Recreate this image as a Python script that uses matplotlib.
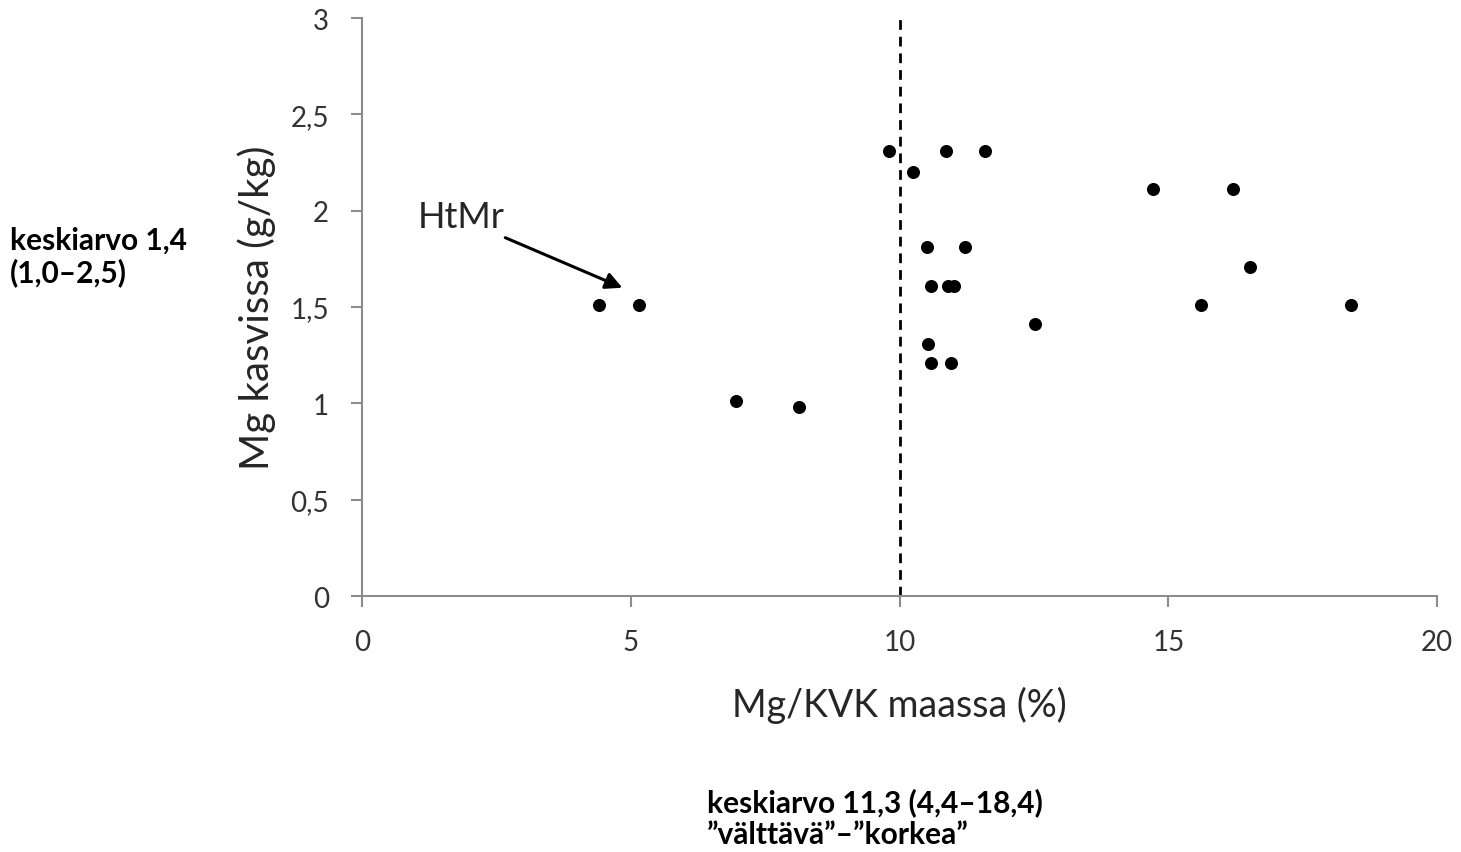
import matplotlib.pyplot as plt
import numpy as np

# Mg/KVK maassa (%) vs Mg kasvissa (g/kg)
mg_kvk = [4.41, 5.15, 6.95, 8.13, 9.81, 10.25, 10.86, 11.58, 10.50, 11.21,
          10.58, 10.89, 11.02, 10.53, 10.59, 10.96, 12.52, 14.72, 16.21,
          16.52, 15.61, 18.39]
mg_kasvi = [1.51, 1.51, 1.01, 0.98, 2.31, 2.20, 2.31, 2.31, 1.81, 1.81,
            1.61, 1.61, 1.61, 1.31, 1.21, 1.21, 1.41, 2.11, 2.11,
            1.71, 1.51, 1.51]

xticks = [0, 5, 10, 15, 20]
yticks = [0, 0.5, 1, 1.5, 2, 2.5, 3]
ytick_labels = ['0', '0,5', '1', '1,5', '2', '2,5', '3']
raja = 10

plt.rcParams['font.family'] = ['Lato', 'DejaVu Sans']

fig = plt.figure(figsize=(14.61, 8.53), dpi=100)
ax = fig.add_axes([0.2480, 0.3001, 0.7356, 0.6776])

ax.scatter(mg_kvk, mg_kasvi, s=88, color='black', zorder=3, linewidths=0)
ax.axvline(raja, ymin=0, ymax=1, color='black', linestyle=(0, (3.5, 2.5)), linewidth=2)

ax.set_xlim(0, 20)
ax.set_ylim(0, 3)
ax.set_xticks(xticks)
ax.set_xticklabels([str(t) for t in xticks])
ax.set_yticks(yticks)
ax.set_yticklabels(ytick_labels)

for s in ['top', 'right']:
    ax.spines[s].set_visible(False)
for s in ['left', 'bottom']:
    ax.spines[s].set_color('#8c8c8c')
    ax.spines[s].set_linewidth(1.5)
ax.tick_params(axis='both', colors='#8c8c8c', length=8, width=1.5,
               labelsize=20, labelcolor='#333333')
ax.tick_params(axis='x', pad=16)
ax.tick_params(axis='y', pad=16)

ax.set_xlabel('Mg/KVK maassa (%)', fontsize=27, color='#262626', labelpad=22)
ax.set_ylabel('Mg kasvissa (g/kg)', fontsize=29, color='#262626', labelpad=10)

# HtMr-merkintä ja nuoli
ax.text(1.04, 1.97, 'HtMr', fontsize=26, color='#262626', va='center', ha='left')
ax.annotate('', xy=(4.84, 1.60), xytext=(2.66, 1.86),
            arrowprops=dict(arrowstyle='-|>', color='black', lw=2.2,
                            mutation_scale=25, shrinkA=0, shrinkB=0),
            annotation_clip=False)

fig.text(10 / 1461, 1 - 282 / 853, 'keskiarvo 1,4\n(1,0\u20132,5)', fontsize=21.5,
         fontweight='bold', ha='left', va='baseline', linespacing=1.15)
fig.text(707 / 1461, 1 - 844 / 853,
         'keskiarvo 11,3 (4,4\u201318,4)\n\u201dv\u00e4ltt\u00e4v\u00e4\u201d\u2013\u201dkorkea\u201d',
         fontsize=21.5, fontweight='bold', ha='left', va='baseline', linespacing=1.15)

fig.savefig('out.png', dpi=100)
